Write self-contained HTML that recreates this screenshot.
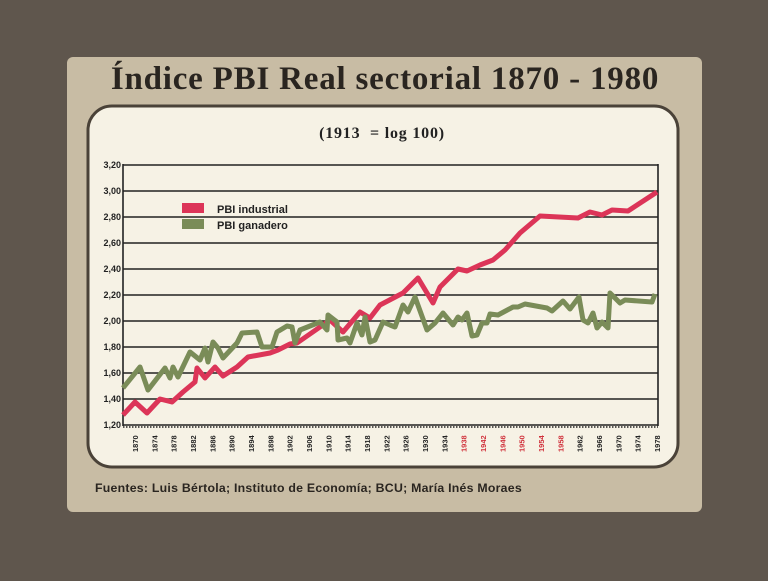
<!DOCTYPE html><html><head><meta charset="utf-8"><style>
body{margin:0;width:768px;height:576px;background:#5f564d;overflow:hidden;font-family:"Liberation Sans",sans-serif}
</style></head><body>
<svg width="768" height="576" xmlns="http://www.w3.org/2000/svg">
<rect x="67" y="57" width="635" height="455" rx="6" fill="#c8bca4"/>
<text x="385" y="89" text-anchor="middle" font-family="Liberation Serif,serif" font-weight="bold" font-size="33" letter-spacing="0.8" fill="#2a2520">Índice PBI Real sectorial 1870 - 1980</text>
<rect x="88" y="106" width="590" height="361" rx="24" fill="#f6f2e5" stroke="#4a4238" stroke-width="3"/>
<text x="382" y="138" text-anchor="middle" font-family="Liberation Serif,serif" font-weight="bold" font-size="16" letter-spacing="0.8" fill="#222" xml:space="preserve">(1913  = log 100)</text>
<g stroke="#222" stroke-width="1.6">
<line x1="123" y1="165" x2="658" y2="165"/><line x1="123" y1="191" x2="658" y2="191"/><line x1="123" y1="217" x2="658" y2="217"/><line x1="123" y1="243" x2="658" y2="243"/><line x1="123" y1="269" x2="658" y2="269"/><line x1="123" y1="295" x2="658" y2="295"/><line x1="123" y1="321" x2="658" y2="321"/><line x1="123" y1="347" x2="658" y2="347"/><line x1="123" y1="373" x2="658" y2="373"/><line x1="123" y1="399" x2="658" y2="399"/><line x1="123" y1="425" x2="658" y2="425"/>
<line x1="123" y1="164" x2="123" y2="426"/><line x1="658" y1="164" x2="658" y2="426"/>
</g>
<line x1="123" y1="427" x2="658" y2="427" stroke="#222" stroke-width="1.5" stroke-dasharray="1.5,1.5"/>
<g font-size="9" font-weight="bold" fill="#222" text-anchor="end">
<text x="121" y="168">3,20</text><text x="121" y="194">3,00</text><text x="121" y="220">2,80</text><text x="121" y="246">2,60</text><text x="121" y="272">2,40</text><text x="121" y="298">2,20</text><text x="121" y="324">2,00</text><text x="121" y="350">1,80</text><text x="121" y="376">1,60</text><text x="121" y="402">1,40</text><text x="121" y="428">1,20</text>
</g>
<g font-size="7.5" font-weight="bold" fill="#222" id="xl"></g>
<polyline fill="none" stroke="#dc3558" stroke-width="5" stroke-linejoin="round" points="123,415 135,402 147,413 160,399 172,402 183,392 195,382 197,368 205,378 215,367 223,376 237,367 248,357 270,353 278,350 290,344 297,343 320,327 330,320 343,332 360,312 370,318 380,305 403,293 418,278 433,303 440,287 458,269 467,271 480,265 493,260 505,250 520,233 540,216 578,218 590,212 602,215 612,210 628,211 657,192"/>
<polyline fill="none" stroke="#7a8c58" stroke-width="5" stroke-linejoin="round" points="123,388 140,367 148,390 165,368 170,378 173,367 178,377 190,352 200,360 205,348 208,362 213,342 218,348 223,358 237,343 242,333 257,332 262,347 272,347 277,332 287,326 292,327 295,343 300,330 320,322 327,330 328,315 337,322 338,340 347,338 350,343 357,323 362,335 365,317 370,342 375,340 383,322 390,325 395,327 403,305 408,312 415,297 427,330 435,323 443,313 453,325 458,317 462,320 467,313 472,336 477,335 482,323 487,323 490,314 498,315 513,307 518,307 525,304 547,308 552,311 563,301 570,309 579,297 583,320 588,323 593,313 597,328 602,322 608,328 610,293 620,303 625,300 652,302 655,294"/>
<rect x="182" y="203" width="22" height="10" fill="#dc3558"/>
<rect x="182" y="219" width="22" height="10" fill="#7a8c58"/>
<text x="217" y="213" font-size="11" font-weight="bold" fill="#222">PBI industrial</text>
<text x="217" y="229" font-size="11" font-weight="bold" fill="#222">PBI ganadero</text>
<text x="95" y="492" font-size="12.3" font-weight="bold" letter-spacing="0.25" fill="#2a2520">Fuentes: Luis Bértola; Instituto de Economía; BCU; María Inés Moraes</text>
</svg>
<script>
var g=document.getElementById('xl'),s='';
for(var i=0;i<28;i++){var y=1870+4*i,x=135.5+i*19.33;var c=(y>=1938&&y<=1958)?'#d0303a':'#222';
s+='<text transform="translate('+(x+2.5)+',452) rotate(-90)" fill="'+c+'">'+y+'</text>';}
g.innerHTML=s;
</script>
</body></html>
